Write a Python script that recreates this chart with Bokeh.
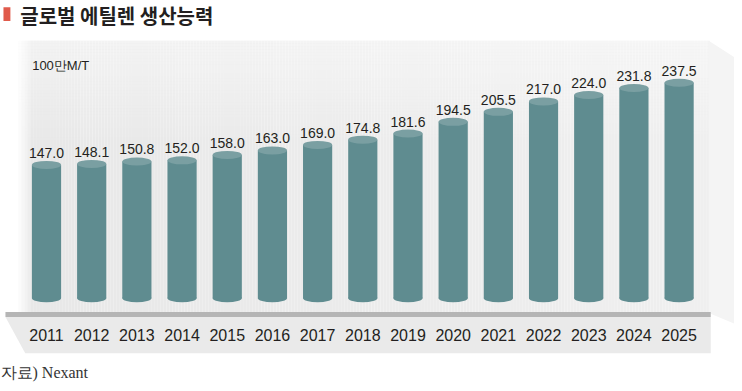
import numpy as np
from bokeh.plotting import figure
from bokeh.models import Range1d, ColumnDataSource
from bokeh.core.properties import value
from bokeh.embed import file_html
from bokeh.resources import INLINE

# ---- data ----
years = [2011, 2012, 2013, 2014, 2015, 2016, 2017, 2018, 2019, 2020, 2021, 2022, 2023, 2024, 2025]
capacity = [147.0, 148.1, 150.8, 152.0, 158.0, 163.0, 169.0, 174.8, 181.6, 194.5, 205.5, 217.0, 224.0, 231.8, 237.5]
value_labels = ["147.0", "148.1", "150.8", "152.0", "158.0", "163.0", "169.0", "174.8", "181.6",
                "194.5", "205.5", "217.0", "224.0", "231.8", "237.5"]
year_labels = [str(y) for y in years]
title_text = "글로벌 에틸렌 생산능력"
unit_text = "100만M/T"
source_text = "자료) Nexant"

# ---- styles ----
BODY = "#5f8c90"
TOP = "#7a9fa2"
TEXT = "#231f20"
SANS = "Liberation Sans"
CJK = "Noto Sans CJK KR"

W, H = 734, 383
p = figure(width=W, height=H, output_backend="svg", toolbar_location=None,
           x_range=Range1d(2009.982, 2026.226), y_range=Range1d(-93.92, 328.19),
           min_border=0, x_axis_location=None, y_axis_location=None,
           background_fill_color="white", border_fill_color="white")
p.grid.visible = False
p.outline_line_color = None
p.extra_x_ranges = {"px": Range1d(0, 742)}
p.extra_y_ranges = {"px": Range1d(391, 0)}
PX = dict(x_range_name="px", y_range_name="px")

def mix(c1, c2, t):
    a = [int(c1[i:i + 2], 16) for i in (1, 3, 5)]
    b = [int(c2[i:i + 2], 16) for i in (1, 3, 5)]
    return "#%02x%02x%02x" % tuple(int(round(a[k] + (b[k] - a[k]) * t)) for k in range(3))

# ---- background panel (decoration) ----
xs = np.arange(18, 716, 3)
cols = []
for x in xs:
    if x < 30:
        cols.append(mix("#fbfbfb", "#e8e8e8", (x - 18) / 12))
    else:
        cols.append(mix("#e8e8e8", "#efefef", (x - 30) / 686))
p.quad(left=xs, right=xs + 3, top=41, bottom=319, fill_color=cols, line_color=None, **PX)
ys = np.arange(41, 150, 3)
p.quad(left=18, right=716, top=ys, bottom=ys + 3, fill_color="white",
       fill_alpha=[0.45 * (1 - (y - 41) / 109) for y in ys], line_color=None, **PX)
# right bevel
p.patch([716, 742, 742, 716], [41, 58, 330, 319], fill_color="#f4f4f4", line_color=None, **PX)
# base strip and year band
p.quad(left=5, right=718, top=318, bottom=323, fill_color="#b5b5b5", line_color=None, **PX)
p.patch([5, 718, 718, 25], [323, 323, 360, 360], fill_color="#eaeaea", line_color=None, **PX)

# ---- cylinders ----
src = ColumnDataSource(dict(year=years, cap=capacity, lab=value_labels, ylab=year_labels))
BW = 0.646
p.ellipse(x="year", y=0, width=BW, height=8, height_units="screen", source=src,
          fill_color=BODY, line_color=None)
p.vbar(x="year", top="cap", bottom=0, width=BW, source=src, fill_color=BODY, line_color=None)
p.ellipse(x="year", y="cap", width=BW, height=8, height_units="screen", source=src,
          fill_color=TOP, line_color=None)

# value labels
p.text(x="year", y="cap", text="lab", source=src, text_align="center",
       text_baseline="alphabetic", y_offset=-12, text_font=value(SANS),
       text_font_size="14px", text_color=TEXT)

# year labels
src_y = ColumnDataSource(dict(year=years, ylab=year_labels, yy=[341] * len(years)))
p.text(x="year", y="yy", text="ylab", source=src_y, text_align="center",
       text_baseline="middle", text_font=value(SANS), text_font_size="16px",
       text_color=TEXT, y_range_name="px")

# ---- title, unit, source ----
p.quad(left=3, right=10, top=7, bottom=21, fill_color="#e05a4b", line_color=None, **PX)
p.text(x=[20], y=[15], text=[title_text], text_baseline="middle",
       text_font=value(CJK), text_font_size="20px", text_font_style="bold",
       text_color=TEXT, **PX)
p.text(x=[32], y=[66], text=[unit_text], text_baseline="middle",
       text_font=value(SANS), text_font_size="13px", text_color=TEXT, **PX)
p.text(x=[0], y=[380], text=[source_text], text_baseline="middle",
       text_font=value("Liberation Serif"), text_font_size="16px", text_color="#333333", **PX)

open("out.html", "w").write(file_html(p, INLINE))
